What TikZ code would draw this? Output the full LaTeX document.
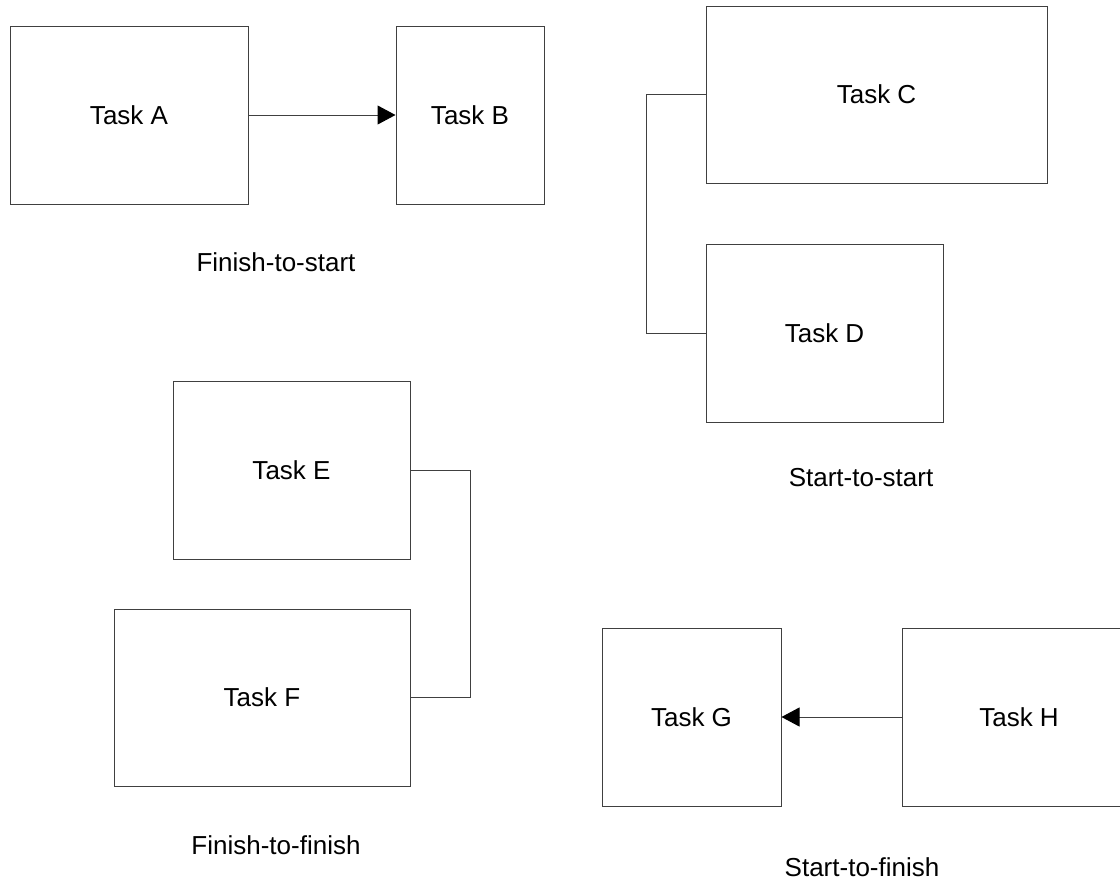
\documentclass[tikz,border=0pt]{standalone}
\usepackage{fontspec}
\setmainfont{Liberation Sans}
\usetikzlibrary{arrows.meta, positioning}

\begin{document}
\begin{tikzpicture}[
    x=0.5pt, y=-0.5pt,
    task/.style={rectangle, draw=black!75, line width=0.5pt, inner sep=0pt, align=center, font=\fontsize{13}{15}\selectfont},
    caption/.style={inner sep=0pt, font=\fontsize{13}{15}\selectfont},
    link/.style={draw=black!75, line width=0.5pt},
    arrow/.style={link, -{Triangle[length=9pt, width=9.5pt, color=black]}}
]

% Page frame
\useasboundingbox (0,0) rectangle (1120,879);
\clip (0,0) rectangle (1120,879);

% Finish-to-start (top left)
\node[task, minimum width=119pt, minimum height=89pt] (taskA) at (129,115) {Task A};
\node[task, minimum width=74pt, minimum height=89pt, right=73.5pt of taskA] (taskB) {Task B};
\node[caption] (fslabel) at (276,262) {Finish-to-start};

% Start-to-start (top right)
\node[task, minimum width=170.5pt, minimum height=88.5pt] (taskC) at (876.5,94.5) {Task C};
\node[task, minimum width=118.5pt, minimum height=89pt, below=30pt of taskC.south west, anchor=north west] (taskD) {Task D};
\node[caption] (sslabel) at (861,478) {Start-to-start};

% Finish-to-finish (bottom left)
\node[task, minimum width=118.5pt, minimum height=89pt] (taskE) at (291.5,470) {Task E};
\node[task, minimum width=148pt, minimum height=88.5pt, below=24.5pt of taskE.south east, anchor=north east] (taskF) {Task F};
\node[caption] (fflabel) at (276,845) {Finish-to-finish};

% Start-to-finish (bottom right)
\node[task, minimum width=89.5pt, minimum height=89pt] (taskG) at (691.5,717) {Task G};
\node[task, minimum width=117pt, minimum height=89pt, right=60pt of taskG] (taskH) {Task H};
\node[caption] (sflabel) at (862,867) {Start-to-finish};

% Links
\draw[arrow] (taskA) -- (taskB);
\draw[link] (taskC.west) -- ++(-59,0) |- (taskD.west);
\draw[link] (taskE.east) -- ++(60,0) |- (taskF.east);
\draw[arrow] (taskH) -- (taskG);

\end{tikzpicture}
\end{document}
